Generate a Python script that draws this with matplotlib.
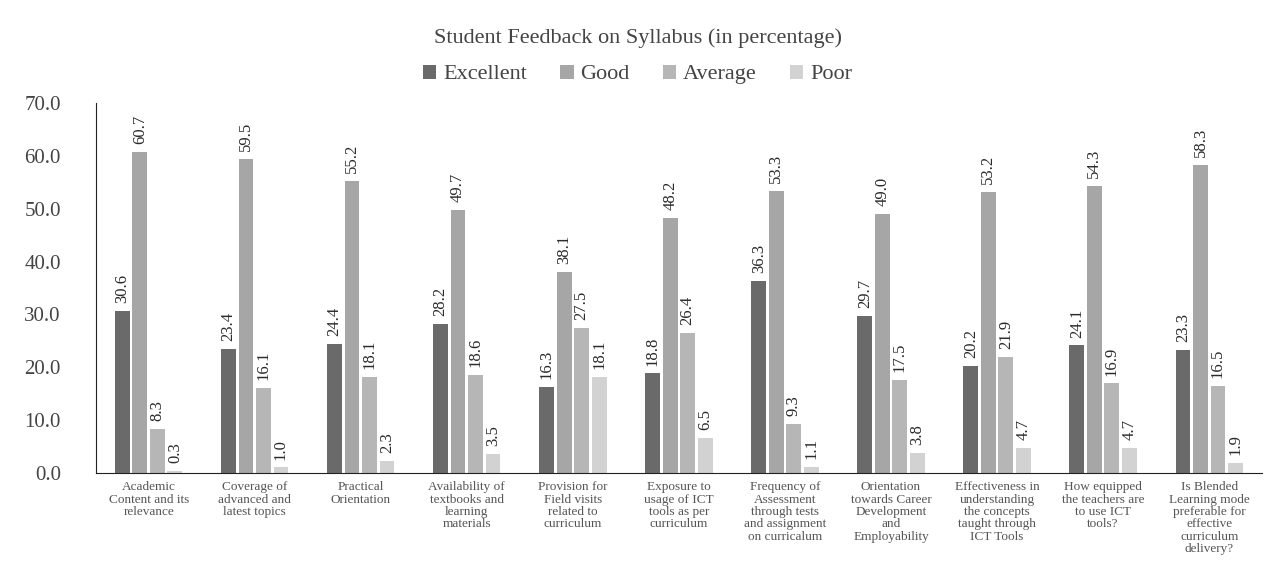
import matplotlib.pyplot as plt
import numpy as np

plt.rcParams['font.family'] = ['Liberation Serif', 'DejaVu Serif']

categories = [
    'Academic\nContent and its\nrelevance',
    'Coverage of\nadvanced and\nlatest topics',
    'Practical\nOrientation',
    'Availability of\ntextbooks and\nlearning\nmaterials',
    'Provision for\nField visits\nrelated to\ncurriculum',
    'Exposure to\nusage of ICT\ntools as per\ncurriculum',
    'Frequency of\nAssessment\nthrough tests\nand assignment\non curricalum',
    'Orientation\ntowards Career\nDevelopment\nand\nEmployability',
    'Effectiveness in\nunderstanding\nthe concepts\ntaught through\nICT Tools',
    'How equipped\nthe teachers are\nto use ICT\ntools?',
    'Is Blended\nLearning mode\npreferable for\neffective\ncurriculum\ndelivery?',
]
excellent = [30.6, 23.4, 24.4, 28.2, 16.3, 18.8, 36.3, 29.7, 20.2, 24.1, 23.3]
good = [60.7, 59.5, 55.2, 49.7, 38.1, 48.2, 53.3, 49.0, 53.2, 54.3, 58.3]
average = [8.3, 16.1, 18.1, 18.6, 27.5, 26.4, 9.3, 17.5, 21.9, 16.9, 16.5]
poor = [0.3, 1.0, 2.3, 3.5, 18.1, 6.5, 1.1, 3.8, 4.7, 4.7, 1.9]

series = [('Excellent', excellent, '#6a6a6a'),
          ('Good', good, '#a6a6a6'),
          ('Average', average, '#b6b6b6'),
          ('Poor', poor, '#d2d2d2')]

fig = plt.figure(figsize=(12.75, 5.73), dpi=100)
ax = fig.add_axes([0.075, 0.175, 0.915, 0.645])

x = np.arange(len(categories))
w = 0.14
step = 0.165
for i, (name, vals, col) in enumerate(series):
    pos = x + (i - 1.5) * step
    ax.bar(pos, vals, w, color=col, label=name)
    for p, v in zip(pos, vals):
        ax.text(p, v + 1.5, '%.1f' % v, rotation=90, ha='center', va='bottom',
                fontsize=12, color='#2a2a2a')

ax.set_xlim(-0.5, len(categories) - 0.5)
ax.set_ylim(0, 70)
ax.set_yticks(np.arange(0, 71, 10))
ax.set_yticklabels(['%.1f' % t for t in np.arange(0, 71, 10)], fontsize=15, color='#444444')
ax.set_xticks(x)
ax.set_xticklabels(categories, fontsize=9.5, color='#555555', linespacing=1.05)
ax.tick_params(axis='both', length=0)
ax.tick_params(axis='y', pad=25)
ax.tick_params(axis='x', pad=6)
ax.spines['top'].set_visible(False)
ax.spines['right'].set_visible(False)
ax.spines['left'].set_color('#222222')
ax.spines['bottom'].set_color('#222222')

fig.text(0.5, 0.925, 'Student Feedback on Syllabus (in percentage)', ha='center',
         fontsize=16, color='#444444')
fig.legend(loc='center', bbox_to_anchor=(0.5, 0.87), ncol=4, frameon=False,
           fontsize=16, handlelength=0.6, handleheight=0.6, columnspacing=1.5,
           handletextpad=0.3, labelcolor='#444444')

fig.savefig('out.png', dpi=100)
